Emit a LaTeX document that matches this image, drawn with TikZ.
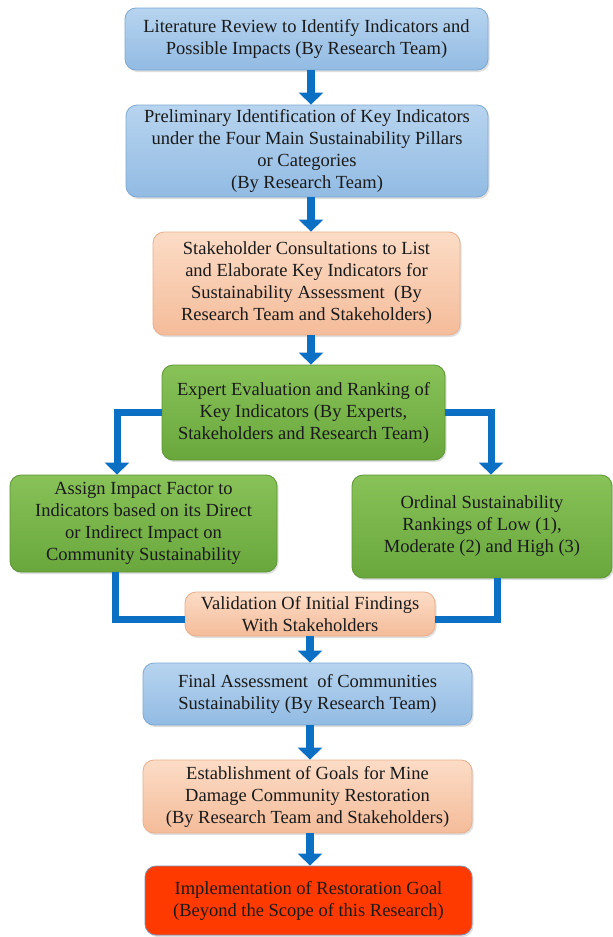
\documentclass[tikz,border=0pt]{standalone}
\usepackage{fontspec}
\setmainfont{Liberation Serif}
\usetikzlibrary{arrows.meta,shadows,calc}
\definecolor{arrowblue}{HTML}{0B6FC4}
\definecolor{txt}{HTML}{1A1A1A}
\definecolor{blueTop}{HTML}{B7D4EF}
\definecolor{blueBot}{HTML}{92BBE3}
\definecolor{blueLine}{HTML}{7EA9D4}
\definecolor{peachTop}{HTML}{FCDCC6}
\definecolor{peachBot}{HTML}{F4BC9A}
\definecolor{peachLine}{HTML}{E9AE8B}
\definecolor{greenTop}{HTML}{88C258}
\definecolor{greenBot}{HTML}{69A73C}
\definecolor{greenLine}{HTML}{5E9535}
\definecolor{redFill}{HTML}{FF3A00}
\definecolor{redLine}{HTML}{7D8DB8}
\tikzset{
  boxbase/.style={rectangle, rounded corners=11pt, align=center, inner sep=0pt,
    text=txt, font=\fontsize{18.5pt}{22pt}\selectfont, line width=0.8pt,
    drop shadow={shadow xshift=1.5pt, shadow yshift=-2pt, opacity=0.25}},
  bluebox/.style={boxbase, draw=blueLine, top color=blueTop, bottom color=blueBot},
  peachbox/.style={boxbase, draw=peachLine, top color=peachTop, bottom color=peachBot},
  greenbox/.style={boxbase, draw=greenLine, top color=greenTop, bottom color=greenBot},
  redbox/.style={boxbase, draw=redLine, fill=redFill},
  bigarrow/.style={draw=arrowblue, line width=8pt, -{Triangle[width=24pt,length=12pt]}},
  conn/.style={draw=arrowblue, line width=7pt, line join=miter},
  connarrow/.style={conn, -{Triangle[width=24pt,length=12pt]}},
}
\begin{document}
\begin{tikzpicture}[x=1pt,y=-1pt]
\useasboundingbox (0,0) rectangle (613,937);
\fill[white] (0,0) rectangle (613,937);

\node[bluebox, minimum width=363, minimum height=62] (b1) at (306.5,39)
  {Literature Review to Identify Indicators and\\Possible Impacts (By Research Team)};
\node[bluebox, minimum width=362, minimum height=92] (b2) at (307,151)
  {Preliminary Identification of Key Indicators\\under the Four Main Sustainability Pillars\\or Categories\\(By Research Team)};
\node[peachbox, minimum width=307, minimum height=103] (b3) at (306.5,283.5)
  {Stakeholder Consultations to List\\and Elaborate Key Indicators for\\Sustainability Assessment\ \ (By\\Research Team and Stakeholders)};
\node[greenbox, minimum width=283, minimum height=95] (b4) at (303.5,412.5)
  {Expert Evaluation and Ranking of\\Key Indicators (By Experts,\\Stakeholders and Research Team)};
\node[greenbox, minimum width=267, minimum height=97] (b5) at (143.5,523.5)
  {Assign Impact Factor to\\Indicators based on its Direct\\or Indirect Impact on\\Community Sustainability};
\node[greenbox, minimum width=260, minimum height=103] (b6) at (482,526.5)
  {Ordinal Sustainability\\Rankings of Low (1),\\Moderate (2) and High (3)};
\node[peachbox, minimum width=250, minimum height=44] (b7) at (310,614)
  {Validation Of Initial Findings\\With Stakeholders};
\node[bluebox, minimum width=329, minimum height=62] (b8) at (307.5,694)
  {Final Assessment\ \ of Communities\\Sustainability (By Research Team)};
\node[peachbox, minimum width=329, minimum height=73] (b9) at (307.5,796.5)
  {Establishment of Goals for Mine\\Damage Community Restoration\\(By Research Team and Stakeholders)};
\node[redbox, minimum width=327, minimum height=69] (b10) at (308.5,900.5)
  {Implementation of Restoration Goal\\(Beyond the Scope of this Research)};

\coordinate (ax) at (311,0);
\coordinate (ax2) at (310,0);
\coordinate (lx) at (117,0);
\coordinate (rx) at (491,0);
\coordinate (lbx) at (115,0);
\coordinate (rbx) at (497,0);

\draw[bigarrow] (b1.south -| ax) -- (b2.north -| ax);
\draw[bigarrow] (b2.south -| ax) -- (b3.north -| ax);
\draw[bigarrow] (b3.south -| ax) -- (b4.north -| ax);
\draw[connarrow] (b4.west) -| (b5.north -| lx);
\draw[connarrow] (b4.east) -| (b6.north -| rx);
\draw[conn] (b5.south -| lbx) |- ($(b7.west)+(0,5)$);
\draw[conn] (b6.south -| rbx) |- ($(b7.east)+(0,5)$);
\draw[bigarrow] (b7.south -| ax2) -- (b8.north -| ax2);
\draw[bigarrow] (b8.south -| ax2) -- (b9.north -| ax2);
\draw[bigarrow] (b9.south -| ax2) -- (b10.north -| ax2);
\end{tikzpicture}
\end{document}
